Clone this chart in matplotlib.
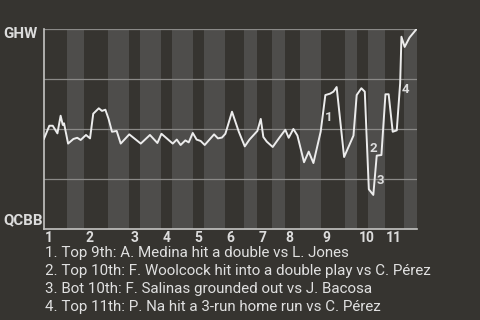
import matplotlib
matplotlib.use("Agg")
import matplotlib.pyplot as plt

plt.rcParams['font.family'] = ['Roboto', 'DejaVu Sans']

# inning starts (event index) for top and bottom halves
top_starts = [0, 19, 40, 55, 70, 85, 100, 113, 130, 147, 160]
bot_starts = [11, 30, 45, 60, 75, 94, 107, 120, 141, 152, 169]
last_event = 175
inning_labels = ['1', '2', '3', '4', '5', '6', '7', '8', '9', '10', '11']

# win probability for GHW
events = [0, 2.5, 4.1, 6.3, 7.8, 8.8, 9.4, 11.3, 13.8, 15.6, 17.2, 19.7, 21.6,
          23.1, 25.7, 27.2, 28.8, 30.3, 31.9, 34.1, 36.0, 40.0, 45.4, 49.7,
          53.2, 55.1, 60.4, 62.3, 64.1, 66.3, 67.9, 69.8, 71.6, 73.5, 75.4,
          79.8, 81.6, 83.5, 85.1, 88.2, 91.4, 94.2, 96.4, 100.1, 101.7, 102.9,
          104.5, 107.3, 110.4, 113.2, 114.8, 117.0, 118.9, 122.0, 124.2, 126.4,
          129.8, 132.0, 134.2, 135.8, 137.3, 140.8, 145.2, 146.7, 148.9, 150.5,
          152.4, 154.5, 156.1, 158.3, 160.2, 161.7, 163.6, 165.5, 167.1, 167.7,
          169.2, 171.5, 175.0]
win_prob = [0.45, 0.515, 0.515, 0.477, 0.565, 0.519, 0.527, 0.426, 0.449, 0.455,
            0.444, 0.469, 0.452, 0.575, 0.602, 0.589, 0.595, 0.549, 0.485, 0.489,
            0.426, 0.472, 0.426, 0.469, 0.429, 0.475, 0.426, 0.446, 0.419, 0.442,
            0.432, 0.479, 0.446, 0.439, 0.419, 0.472, 0.452, 0.456, 0.475, 0.585,
            0.485, 0.412, 0.446, 0.489, 0.549, 0.459, 0.436, 0.409, 0.455, 0.495,
            0.455, 0.499, 0.466, 0.333, 0.386, 0.329, 0.485, 0.668, 0.675, 0.685,
            0.708, 0.359, 0.466, 0.668, 0.702, 0.685, 0.198, 0.170, 0.366, 0.369,
            0.672, 0.672, 0.485, 0.492, 0.727, 0.959, 0.908, 0.955, 1.0]

# key plays: marker number, label position
key_nums = ['1', '2', '3', '4']
key_x = [133.6, 154.6, 158.0, 169.5]
key_y = [0.555, 0.403, 0.243, 0.698]
key_text = [
    "1. Top 9th: A. Medina hit a double vs L. Jones",
    "2. Top 10th: F. Woolcock hit into a double play vs C. Pérez",
    "3. Bot 10th: F. Salinas grounded out vs J. Bacosa",
    "4. Top 11th: P. Na hit a 3-run home run vs C. Pérez",
]

bg = '#363430'
band = '#4e4d4b'
txt = '#dcdcdc'

fig = plt.figure(figsize=(4.8, 3.2), dpi=100, facecolor=bg)
ax = fig.add_axes([44/480, 1 - 229/320, 373/480, 200.5/320])
ax.set_facecolor(bg)

for b, t in zip(bot_starts, top_starts[1:] + [last_event]):
    ax.axvspan(b, t, color=band, lw=0, zorder=0)

for g in [0.25, 0.5, 0.75, 1.0]:
    ax.axhline(g, color='#8a8987', lw=0.9, zorder=1)

ax.plot(events, win_prob, color='#ececec', lw=1.4, zorder=3)

for n, x, y in zip(key_nums, key_x, key_y):
    ax.text(x, y, n, color=txt, fontsize=9.5, fontweight='bold',
            ha='center', va='center', zorder=4)

ax.set_xlim(0, last_event)
ax.set_ylim(0, 1)
ax.set_xticks([])
ax.set_yticks([])
for s in ['top', 'right']:
    ax.spines[s].set_visible(False)
for s in ['left', 'bottom']:
    ax.spines[s].set_color('#c4c4c2')
    ax.spines[s].set_linewidth(1.2)

for x, lab in zip(top_starts, inning_labels):
    ax.annotate(lab, (x, 0), xytext=(1, -8.5), textcoords='offset pixels',
                color=txt, fontsize=10, fontweight='bold', ha='left', va='center')

fig.text(3/480, 1 - 33.7/320, 'GHW', color=txt, fontsize=10.8,
         fontweight='bold', ha='left', va='center')
fig.text(3/480, 1 - 219.8/320, 'QCBB', color=txt, fontsize=10.8,
         fontweight='bold', ha='left', va='center')

for i, t in enumerate(key_text):
    fig.text(45/480, 1 - (253.3 + 17.8*i)/320, t, color='#e0e0e0',
             fontsize=10.9, ha='left', va='center')

fig.savefig('out.png', dpi=100, facecolor=bg)
